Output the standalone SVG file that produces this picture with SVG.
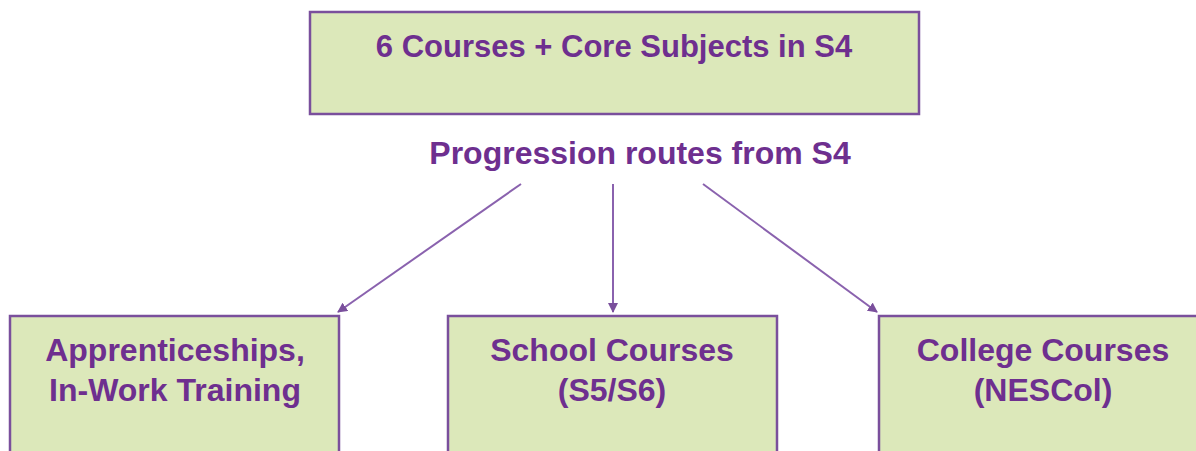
<svg xmlns="http://www.w3.org/2000/svg" width="1196" height="451" viewBox="0 0 1196 451">
<style>
.box{fill:#DCE8BA;stroke:#7A4F9C;stroke-width:2.5}
.t{font-family:"Liberation Sans",Arial,sans-serif;font-weight:bold;fill:#6E2F8F;text-anchor:middle}
.c{stroke:#8A62AE;stroke-width:2;fill:none}
</style>
<defs>
<marker id="ah" viewBox="0 0 10 10" refX="9" refY="5" markerWidth="5" markerHeight="5" orient="auto" markerUnits="strokeWidth">
<path d="M0,0 L10,5 L0,10 z" fill="#7A4F9C"/>
</marker>
</defs>
<rect width="1196" height="451" fill="#FFFFFF"/>
<g id="top">
<rect class="box" x="310" y="12" width="609" height="102"/>
<text class="t" x="614" y="57" font-size="31">6 Courses + Core Subjects in S4</text>
</g>
<g id="label">
<text class="t" x="640" y="164" font-size="32">Progression routes from S4</text>
</g>
<g id="connectors">
<line class="c" x1="521" y1="184" x2="338" y2="312" marker-end="url(#ah)"/>
<line class="c" x1="613" y1="184" x2="613" y2="312" marker-end="url(#ah)"/>
<line class="c" x1="703" y1="184" x2="877" y2="312" marker-end="url(#ah)"/>
</g>
<g id="apprenticeships">
<rect class="box" x="10" y="316" width="329" height="150"/>
<text class="t" x="175" y="361" font-size="32">Apprenticeships,</text>
<text class="t" x="175" y="401" font-size="32">In-Work Training</text>
</g>
<g id="school">
<rect class="box" x="448" y="316" width="329" height="150"/>
<text class="t" x="612" y="361" font-size="32">School Courses</text>
<text class="t" x="612" y="401" font-size="32">(S5/S6)</text>
</g>
<g id="college">
<rect class="box" x="879" y="316" width="340" height="150"/>
<text class="t" x="1043" y="361" font-size="32">College Courses</text>
<text class="t" x="1043" y="401" font-size="32">(NESCol)</text>
</g>
</svg>
